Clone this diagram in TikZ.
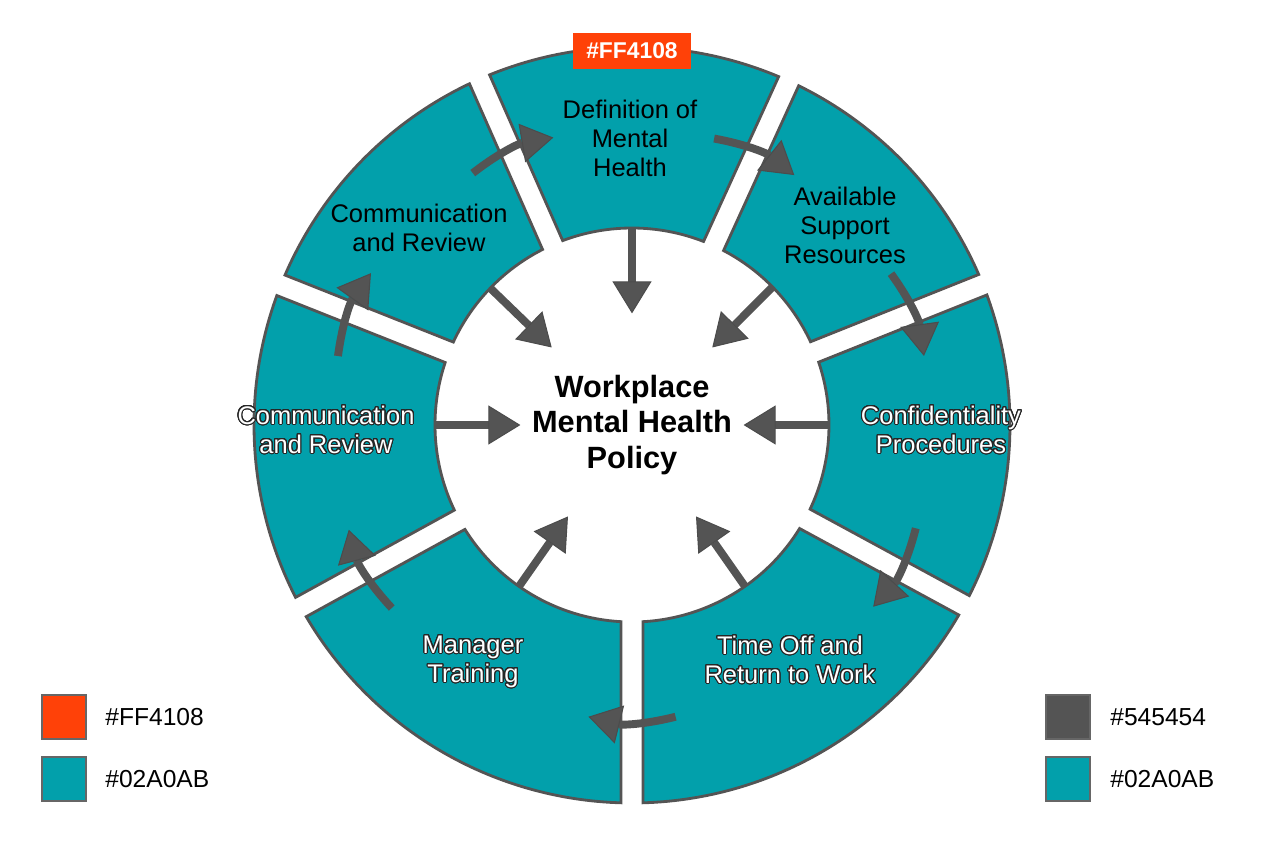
\documentclass[tikz,border=0pt]{standalone}
\usepackage{fontspec}
\setmainfont{Liberation Sans}
\usepackage{contour}
\usetikzlibrary{arrows.meta}
\contourlength{0.6pt}
\contournumber{32}
\definecolor{cteal}{HTML}{02A0AB}
\definecolor{corange}{HTML}{FF4108}
\definecolor{cgrey}{HTML}{545454}
\newcommand{\outl}[1]{\contour{black!85}{#1}}
\tikzset{
  segment/.style={fill=cteal,draw=cgrey,line width=1.6pt,line join=miter},
  darklabel/.style={align=center,font=\fontsize{14.5}{16.5}\selectfont,text=black,inner sep=0pt},
  lightlabel/.style={align=center,font=\fontsize{14.5}{16.5}\selectfont,text=white,inner sep=0pt},
  hub/.style={circle,minimum size=4.4cm,inner sep=0pt,align=center,font=\fontsize{17.5}{20}\selectfont\bfseries},
  flow/.style={draw=cgrey,line width=4.5pt,-{Triangle[length=0.64cm,width=0.78cm,color=black!70,fill=cgrey,line width=0.6pt]}},
  tag/.style={fill=corange,text=white,minimum width=2.36cm,minimum height=0.72cm,inner sep=0pt,font=\fontsize{13}{15}\selectfont\bfseries},
  swatch/.style={draw=black!60,line width=0.6pt,minimum size=0.88cm,inner sep=0pt},
  legendtext/.style={anchor=west,inner sep=0pt,font=\fontsize{14}{16}\selectfont}
}
\begin{document}
\begin{tikzpicture}[x=0.02cm,y=0.02cm]
\useasboundingbox (-632,-423) rectangle (632,425);
% ring segments
\filldraw[segment] (68.7:197) -- (67.17:378) arc[start angle=67.17,end angle=112.13,radius=378] -- (110.6:197) arc[start angle=110.6,end angle=68.7,radius=197] -- cycle;
\filldraw[segment] (25.0:197) -- (23.47:378) arc[start angle=23.47,end angle=63.83,radius=378] -- (62.3:197) arc[start angle=62.3,end angle=25.0,radius=197] -- cycle;
\filldraw[segment] (-25.3:197) -- (-26.83:378) arc[start angle=-26.83,end angle=20.13,radius=378] -- (18.6:197) arc[start angle=18.6,end angle=-25.3,radius=197] -- cycle;
\filldraw[segment] (-86.8:197) -- (-88.33:378) arc[start angle=-88.33,end angle=-30.17,radius=378] -- (-31.7:197) arc[start angle=-31.7,end angle=-86.8,radius=197] -- cycle;
\filldraw[segment] (212.0:197) -- (210.47:378) arc[start angle=210.47,end angle=268.33,radius=378] -- (266.8:197) arc[start angle=266.8,end angle=212.0,radius=197] -- cycle;
\filldraw[segment] (161.5:197) -- (159.97:378) arc[start angle=159.97,end angle=207.13,radius=378] -- (205.6:197) arc[start angle=205.6,end angle=161.5,radius=197] -- cycle;
\filldraw[segment] (117.0:197) -- (115.47:378) arc[start angle=115.47,end angle=156.63,radius=378] -- (155.1:197) arc[start angle=155.1,end angle=117.0,radius=197] -- cycle;

% labels
\node[hub] (hub) at (0,0) {Workplace\\Mental Health\\Policy};
\node[darklabel] (def) at (-2,287) {Definition of\\Mental\\Health};
\node[darklabel] (avail) at (213,200) {Available\\Support\\Resources};
\node[lightlabel] (conf) at (309,-5) {\outl{Confidentiality}\\\outl{Procedures}};
\node[lightlabel] (timeoff) at (158,-235) {\outl{Time Off and}\\\outl{Return to Work}};
\node[lightlabel] (manager) at (-159,-237) {\outl{Manager}\\\outl{Training}};
\node[lightlabel] (commleft) at (-306,-5) {\outl{Communication}\\\outl{and Review}};
\node[darklabel] (commup) at (-213,197) {Communication\\and Review};
\node[tag] (tag) at (0,374) {\#FF4108};

% inner edge points
\coordinate (in1) at (90:197);
\coordinate (in2) at (44.5:197);
\coordinate (in3) at (0:197);
\coordinate (in4) at (-55:197);
\coordinate (in5) at (235:197);
\coordinate (in6) at (180:197);
\coordinate (in7) at (136:197);
\draw[flow] (in1) -- (hub.90);
\draw[flow] (in2) -- (hub.44.5);
\draw[flow] (in3) -- (hub.0);
\draw[flow] (in4) -- (hub.-55);
\draw[flow] (in5) -- (hub.235);
\draw[flow] (in6) -- (hub.180);
\draw[flow] (in7) -- (hub.136);

% cycle arrows across the gaps
\coordinate (k1a) at (122.3:298); \coordinate (k1b) at (105.3:298);
\coordinate (k2a) at (74:298);    \coordinate (k2b) at (57:298);
\coordinate (k3a) at (30.3:300);  \coordinate (k3b) at (13.3:300);
\coordinate (k4a) at (-20:302);   \coordinate (k4b) at (-37:302);
\coordinate (k5a) at (-81.5:295); \coordinate (k5b) at (-98.5:295);
\coordinate (k6a) at (217.3:302); \coordinate (k6b) at (200.3:302);
\coordinate (k7a) at (166.8:302); \coordinate (k7b) at (149.8:302);
\draw[flow] (k1a) to[bend left=14] (k1b);
\draw[flow] (k2a) to[bend left=14] (k2b);
\draw[flow] (k3a) to[bend left=14] (k3b);
\draw[flow] (k4a) to[bend left=14] (k4b);
\draw[flow] (k5a) to[bend left=14] (k5b);
\draw[flow] (k6a) to[bend left=14] (k6b);
\draw[flow] (k7a) to[bend left=14] (k7b);

% legends
\node[swatch,fill=corange] (keyA) at (-568,-292) {};
\node[swatch,fill=cteal] (keyB) at (-568,-354) {};
\node[legendtext] (keyAtext) at (-527,-292) {\#FF4108};
\node[legendtext] (keyBtext) at (-527,-354) {\#02A0AB};
\node[swatch,fill=cgrey] (keyC) at (436,-292) {};
\node[swatch,fill=cteal] (keyD) at (436,-354) {};
\node[legendtext] (keyCtext) at (478,-292) {\#545454};
\node[legendtext] (keyDtext) at (478,-354) {\#02A0AB};
\end{tikzpicture}
\end{document}
